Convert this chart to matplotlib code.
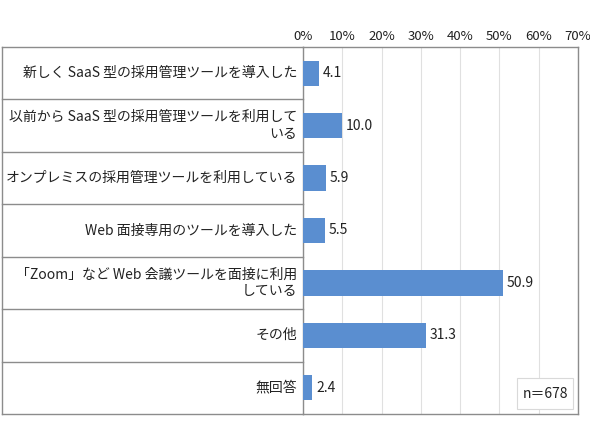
import matplotlib
matplotlib.use("Agg")
import matplotlib.pyplot as plt
from matplotlib.patches import Rectangle

plt.rcParams['font.family'] = ['Noto Sans CJK JP', 'DejaVu Sans']

categories = [
    "新しく SaaS 型の採用管理ツールを導入した",
    "以前から SaaS 型の採用管理ツールを利用して\nいる",
    "オンプレミスの採用管理ツールを利用している",
    "Web 面接専用のツールを導入した",
    "「Zoom」など Web 会議ツールを面接に利用\nしている",
    "その他",
    "無回答",
]
values = [4.1, 10.0, 5.9, 5.5, 50.9, 31.3, 2.4]
ticks = [0, 10, 20, 30, 40, 50, 60, 70]
tick_labels = ["0%", "10%", "20%", "30%", "40%", "50%", "60%", "70%"]
note = "n＝678"

W, H = 590, 425
fig = plt.figure(figsize=(W / 100, H / 100), dpi=100)
x0, x1, y0, y1 = 303, 578, 47, 414
ax = fig.add_axes([x0 / W, 1 - y1 / H, (x1 - x0) / W, (y1 - y0) / H])

n = len(categories)
pos = list(range(n))
ax.barh(pos, values, height=0.48, color="#5A8ED0", zorder=3)
for p, v in zip(pos, values):
    ax.text(v + 1.0, p, f"{v:.1f}", va="center", ha="left", fontsize=10, color="#222222")

ax.set_xlim(0, 70)
ax.set_ylim(n - 0.5, -0.5)
ax.set_xticks(ticks)
ax.set_xticklabels(tick_labels, fontsize=9.5, color="#222222")
ax.xaxis.tick_top()
ax.tick_params(axis="x", length=0, pad=3)
ax.set_yticks([])
ax.grid(axis="x", color="#e0e0e0", linewidth=0.8, zorder=0)
for s in ax.spines.values():
    s.set_color("#8c8c8c")
    s.set_linewidth(1.0)

# left table
left_frac = (2 - x0) / (x1 - x0)
lc = "#8c8c8c"
for i in range(n + 1):
    yy = i - 0.5
    ax.plot([left_frac, 0], [yy, yy], transform=ax.get_yaxis_transform(),
            color=lc, linewidth=1.0, clip_on=False, zorder=4)
ax.plot([left_frac, left_frac], [-0.5, n - 0.5], transform=ax.get_yaxis_transform(),
        color=lc, linewidth=1.0, clip_on=False)
lab_x = (297 - x0) / (x1 - x0)
for p, c in zip(pos, categories):
    ax.text(lab_x, p, c, transform=ax.get_yaxis_transform(), ha="right", va="center",
            fontsize=10, color="#222222", multialignment="right", linespacing=1.25)

# note box
bx, by, bw, bh = 517, 378, 56, 31
fig.patches.append(Rectangle((bx / W, 1 - (by + bh) / H), bw / W, bh / H,
                             transform=fig.transFigure, facecolor="white",
                             edgecolor="#d9d9d9", linewidth=0.8, zorder=5))
fig.text((bx + bw / 2) / W, 1 - (by + bh / 2) / H, note, ha="center", va="center",
         fontsize=10, color="#222222", zorder=6)

fig.savefig("out.png", dpi=100)
